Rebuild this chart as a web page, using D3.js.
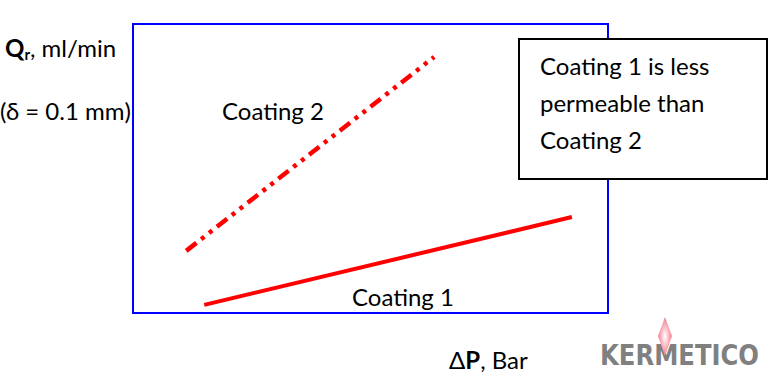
<!DOCTYPE html>
<html>
<head>
<meta charset="utf-8">
<script src="https://cdn.jsdelivr.net/npm/d3@7"></script>
<style>
  body { margin: 0; background: #fff; }
  svg { display: block; }
  text { font-family: Lato, "Open Sans", sans-serif; fill: #000; }
</style>
</head>
<body>
<div id="chart"></div>
<script>
// data (arbitrary units, frame = 0..10)
const coating1 = [{p: 1.5, q: 0.28}, {p: 9.24, q: 3.32}];
const coating2 = [{p: 1.12, q: 2.15}, {p: 6.34, q: 8.86}];
const noteLines = ['Coating 1 is less', 'permeable than', 'Coating 2'];

const width = 772;
const height = 382;
const frame = {left: 133, right: 608, top: 24, bottom: 313};
const fontSize = '24px';

const svg = d3.select('#chart')
  .append('svg')
  .attr('width', width)
  .attr('height', height);

const xScale = d3.scaleLinear().domain([0, 10]).range([frame.left, frame.right]);
const yScale = d3.scaleLinear().domain([0, 10]).range([frame.bottom, frame.top]);

// plot frame
svg.append('rect')
  .attr('x', xScale(0))
  .attr('y', yScale(10))
  .attr('width', xScale(10) - xScale(0))
  .attr('height', yScale(0) - yScale(10))
  .attr('fill', 'none')
  .attr('stroke', '#0000ff')
  .attr('stroke-width', 2);

const line = d3.line()
  .x(d => xScale(d.p))
  .y(d => yScale(d.q));

svg.append('path')
  .datum(coating1)
  .attr('d', line)
  .attr('fill', 'none')
  .attr('stroke', '#ff0000')
  .attr('stroke-width', 4);

svg.append('path')
  .datum(coating2)
  .attr('d', line)
  .attr('fill', 'none')
  .attr('stroke', '#ff0000')
  .attr('stroke-width', 4.5)
  .attr('stroke-dasharray', '13,6,4,6,4,6');

// labels
svg.append('text')
  .attr('x', 222).attr('y', 120)
  .style('font-size', fontSize)
  .text('Coating 2');

svg.append('text')
  .attr('x', 352).attr('y', 306)
  .style('font-size', fontSize)
  .text('Coating 1');

// y label
const yl = svg.append('text')
  .attr('x', 5).attr('y', 57)
  .style('font-size', fontSize);
yl.append('tspan').style('font-weight', 'bold').text('Q');
yl.append('tspan').style('font-weight', 'bold').style('font-size', '15px').attr('dy', 3).text('r');
yl.append('tspan').attr('dy', -3).text(', ml/min');

svg.append('text')
  .attr('x', 0).attr('y', 120)
  .style('font-size', fontSize)
  .text('(δ = 0.1 mm)');

// x label
const xl = svg.append('text')
  .attr('x', 449).attr('y', 369)
  .style('font-size', fontSize);
xl.append('tspan').text('Δ');
xl.append('tspan').style('font-weight', 'bold').text('P');
xl.append('tspan').text(', Bar');

// note box
const note = svg.append('g');
note.append('rect')
  .attr('x', 519).attr('y', 39)
  .attr('width', 248).attr('height', 140)
  .attr('fill', '#fff')
  .attr('stroke', '#000')
  .attr('stroke-width', 2);
note.selectAll('text')
  .data(noteLines)
  .enter()
  .append('text')
  .attr('x', 540)
  .attr('y', (d, i) => 75 + i * 37)
  .style('font-size', fontSize)
  .text(d => d);

// logo
const defs = svg.append('defs');
const grad = defs.append('radialGradient').attr('id', 'flame');
grad.append('stop').attr('offset', '0%').attr('stop-color', '#ffffff');
grad.append('stop').attr('offset', '100%').attr('stop-color', '#f27a8a');

svg.append('text')
  .attr('x', 600).attr('y', 365)
  .style('font-family', '"Liberation Sans Narrow", "DejaVu Sans Condensed", sans-serif')
  .style('font-weight', 'bold')
  .style('font-size', '29px')
  .style('fill', '#808080')
  .attr('textLength', 159)
  .attr('lengthAdjust', 'spacingAndGlyphs')
  .text('KERMETICO');

svg.append('path')
  .attr('d', 'M665,317 L672,336 L665,356 L658,336 Z')
  .attr('fill', 'url(#flame)');
</script>
</body>
</html>
